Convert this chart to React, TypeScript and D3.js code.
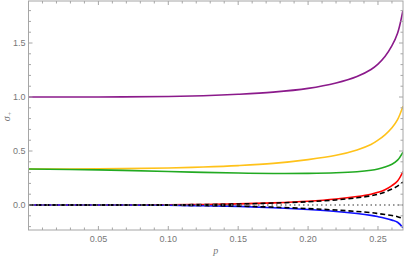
import { useEffect, useRef } from "react";
import * as d3 from "d3";

// sample points along p (last one is the end of the range, 2 - sqrt(3))
const pValues = [0, 0.05, 0.1, 0.125, 0.15, 0.175, 0.2, 0.22, 0.235, 0.245, 0.25, 0.255, 0.26, 0.264, 0.2679];

const purpleSeries = [1.0, 1.0, 1.005, 1.012, 1.025, 1.045, 1.08, 1.13, 1.19, 1.255, 1.305, 1.375, 1.475, 1.59, 1.805];
const orangeSeries = [0.333, 0.335, 0.343, 0.352, 0.365, 0.385, 0.42, 0.46, 0.51, 0.56, 0.6, 0.65, 0.715, 0.79, 0.915];
const greenSeries = [0.333, 0.325, 0.31, 0.302, 0.296, 0.292, 0.293, 0.298, 0.308, 0.322, 0.334, 0.352, 0.378, 0.415, 0.49];
const redSeries = [0, 0, 0.002, 0.005, 0.01, 0.02, 0.035, 0.055, 0.078, 0.1, 0.118, 0.142, 0.18, 0.222, 0.31];
const upperDashed = [0, 0, 0.002, 0.004, 0.009, 0.018, 0.03, 0.047, 0.067, 0.085, 0.1, 0.12, 0.148, 0.175, 0.213];
const lowerDashed = [0, 0, -0.002, -0.005, -0.01, -0.02, -0.033, -0.047, -0.06, -0.071, -0.079, -0.088, -0.098, -0.108, -0.125];
const blueSeries = [0, 0, -0.003, -0.007, -0.013, -0.025, -0.042, -0.06, -0.079, -0.096, -0.108, -0.122, -0.14, -0.16, -0.21];

const xTickLabels = ["0.05", "0.10", "0.15", "0.20", "0.25"];
const yTickLabels = ["0.0", "0.5", "1.0", "1.5"];

const W = 405;
const H = 261;

const App = () => {
  const ref = useRef<SVGSVGElement>(null);

  useEffect(() => {
    const svg = d3.select(ref.current);
    svg.selectAll("*").remove();

    const left = 28.5, right = 403, top = 1, bottom = 230;
    const x = d3.scaleLinear().domain([0, 0.2679]).range([left, right]);
    const y = d3.scaleLinear().domain([-0.2315, 1.889]).range([bottom, top]);

    const frameColor = "#a6a6a6";
    const labelColor = "#777";

    const series = [
      { vals: purpleSeries, color: "#8b1a8b", dash: null, w: 1.6 },
      { vals: orangeSeries, color: "#ffc21a", dash: null, w: 1.6 },
      { vals: greenSeries, color: "#22aa22", dash: null, w: 1.6 },
      { vals: redSeries, color: "#ff0000", dash: null, w: 1.6 },
      { vals: blueSeries, color: "#1010ff", dash: null, w: 1.6 },
      { vals: upperDashed, color: "#000", dash: "5,3", w: 1.6 },
      { vals: lowerDashed, color: "#000", dash: "5,3", w: 1.6 },
    ];

    const g = svg.append("g");
    const clipId = "plotclip";
    svg.append("defs").append("clipPath").attr("id", clipId)
      .append("rect").attr("x", left).attr("y", top).attr("width", right - left).attr("height", bottom - top);

    const line = d3.line<number>()
      .x((_, i) => x(pValues[i]))
      .y(d => y(d))
      .curve(d3.curveCatmullRom.alpha(0.5));

    const plot = g.append("g").attr("clip-path", `url(#${clipId})`);
    series.forEach(s => {
      plot.append("path")
        .attr("d", line(s.vals))
        .attr("fill", "none")
        .attr("stroke", s.color)
        .attr("stroke-width", s.w)
        .attr("stroke-dasharray", s.dash);
    });

    // dotted zero line
    plot.append("line")
      .attr("x1", left).attr("x2", right)
      .attr("y1", y(0)).attr("y2", y(0))
      .attr("stroke", "#777")
      .attr("stroke-width", 1.3)
      .attr("stroke-dasharray", "1.5,3");

    // frame
    g.append("rect")
      .attr("x", left).attr("y", top)
      .attr("width", right - left).attr("height", bottom - top)
      .attr("fill", "none").attr("stroke", frameColor).attr("stroke-width", 1);

    // x ticks
    const xMinor = d3.range(1, 27).map(i => i / 100);
    xMinor.forEach(v => {
      const major = Math.abs((v * 100) % 5) < 1e-6;
      const len = major ? 4 : 2.5;
      g.append("line").attr("x1", x(v)).attr("x2", x(v))
        .attr("y1", bottom).attr("y2", bottom - len)
        .attr("stroke", frameColor);
      g.append("line").attr("x1", x(v)).attr("x2", x(v))
        .attr("y1", top).attr("y2", top + len)
        .attr("stroke", frameColor);
    });
    xTickLabels.forEach(t => {
      g.append("text")
        .attr("x", x(+t)).attr("y", bottom + 12)
        .attr("text-anchor", "middle")
        .attr("font-family", "'Liberation Sans', Arial, sans-serif")
        .attr("font-size", 9)
        .attr("fill", labelColor)
        .text(t);
    });

    // y ticks
    const yMinor = d3.range(-2, 19).map(i => i / 10);
    yMinor.forEach(v => {
      const major = Math.abs(v * 2 - Math.round(v * 2)) < 1e-6;
      const len = major ? 4 : 2.5;
      g.append("line").attr("x1", left).attr("x2", left + len)
        .attr("y1", y(v)).attr("y2", y(v)).attr("stroke", frameColor);
      g.append("line").attr("x1", right).attr("x2", right - len)
        .attr("y1", y(v)).attr("y2", y(v)).attr("stroke", frameColor);
    });
    yTickLabels.forEach(t => {
      g.append("text")
        .attr("x", left - 3).attr("y", y(+t))
        .attr("dy", "0.35em")
        .attr("text-anchor", "end")
        .attr("font-family", "'Liberation Sans', Arial, sans-serif")
        .attr("font-size", 9)
        .attr("fill", labelColor)
        .text(t);
    });

    // axis labels
    g.append("text")
      .attr("x", (left + right) / 2).attr("y", bottom + 24)
      .attr("text-anchor", "middle")
      .attr("font-family", "'Liberation Serif', serif")
      .attr("font-style", "italic")
      .attr("font-size", 10)
      .attr("fill", labelColor)
      .text("p");

    const yl = g.append("text")
      .attr("transform", `translate(10,${y(0.82)}) rotate(-90)`)
      .attr("text-anchor", "middle")
      .attr("font-family", "'Liberation Serif', serif")
      .attr("font-style", "italic")
      .attr("font-size", 10)
      .attr("fill", labelColor);
    yl.append("tspan").text("σ");
    yl.append("tspan").attr("font-size", 7).attr("dy", 2).text("+");
  }, []);

  return (
    <svg ref={ref} width={W} height={H} style={{ position: "absolute", left: 0, top: 0 }} />
  );
};

export default App;
